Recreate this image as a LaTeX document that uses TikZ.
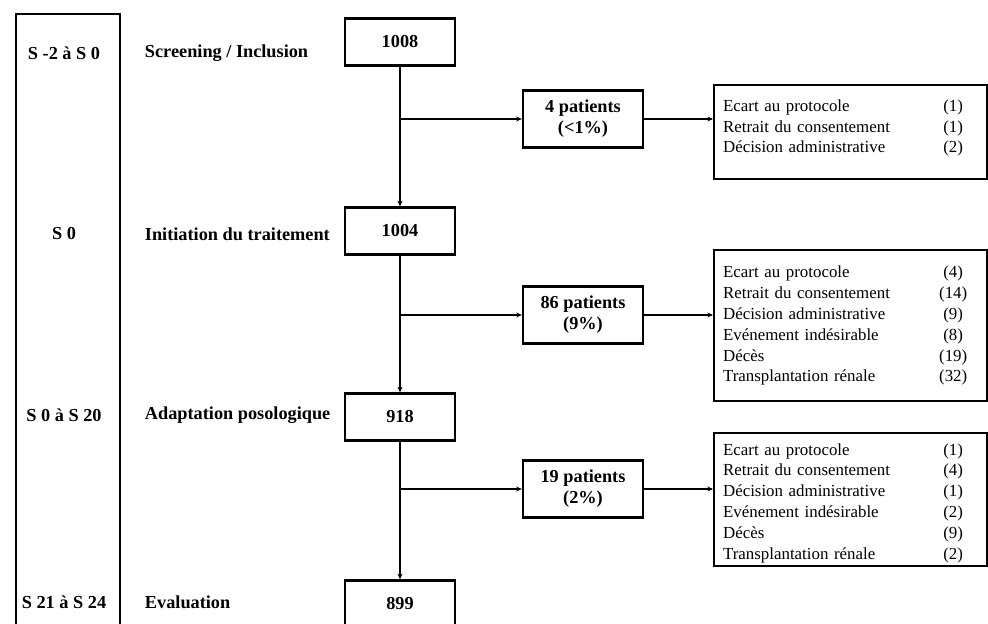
\documentclass[tikz,border=0pt]{standalone}
\usepackage{fontspec}
\setmainfont{Liberation Serif}
\usetikzlibrary{positioning, arrows.meta}

\newcommand{\nb}[1]{\makebox[0.9cm]{#1}}

\tikzset{
  thickline/.style={line width=1.6pt},
  countbox/.style={draw, thickline, minimum width=2.75cm, minimum height=1.175cm},
  patbox/.style={draw, thickline, minimum width=3cm, minimum height=1.43cm, align=center},
  listbox/.style={draw, thickline, anchor=north west, inner xsep=0.225cm, inner ysep=0pt,
    text width=6.375cm, align=left, font=\mdseries\fontsize{12}{14.8}\selectfont},
  phase/.style={anchor=west}
}

\begin{document}
\begin{tikzpicture}[x=0.025cm, y=-0.025cm, >={Stealth[length=4pt,width=3.5pt]},
    font=\bfseries\fontsize{13}{15}\selectfont]
    \clip (0,0) rectangle (988,624);
    \useasboundingbox (0,0) rectangle (988,624);

    % colonne des semaines
    \draw[thickline] (16,640) -- (16,14) -- (120,14) -- (120,640);
    \node (w1) at (64,53) {S -2 à S 0};
    \node (w2) at (64,234) {S 0};
    \node (w3) at (64,415) {S 0 à S 20};
    \node (w4) at (64,602) {S 21 à S 24};

    \node[phase] (ph1) at (140,53) {Screening / Inclusion};
    \node[phase] (ph2) at (140,234) {Initiation du traitement};
    \node[phase] (ph3) at (140,415) {Adaptation posologique};
    \node[phase] (ph4) at (140,602) {Evaluation};

    % effectifs
    \node[countbox] (c1) at (400,42) {1008};
    \node[countbox] (c2) at (400,231) {1004};
    \node[countbox] (c3) at (400,417) {918};
    \node[countbox] (c4) at (400,604) {899};

    % sorties d'etude
    \node[patbox] (x1) at (583,119) {4 patients\\(<1\%)};
    \node[patbox] (x2) at (583,315) {86 patients\\(9\%)};
    \node[patbox] (x3) at (583,489) {19 patients\\(2\%)};

    \node[listbox, minimum height=2.35cm] (r1) at (713,84) {%
      \begin{tabular}{@{}p{5.3cm}@{}l@{}}
        Ecart au protocole & \nb{(1)}\\
        Retrait du consentement & \nb{(1)}\\
        Décision administrative & \nb{(2)}\\[6pt]
      \end{tabular}};
    \node[listbox, minimum height=3.78cm] (r2) at (713,249) {%
      \begin{tabular}{@{}p{5.3cm}@{}l@{}}
        Ecart au protocole & \nb{(4)}\\
        Retrait du consentement & \nb{(14)}\\
        Décision administrative & \nb{(9)}\\
        Evénement indésirable & \nb{(8)}\\
        Décès & \nb{(19)}\\
        Transplantation rénale & \nb{(32)}
      \end{tabular}};
    \node[listbox, minimum height=3.33cm] (r3) at (713,432) {%
      \begin{tabular}{@{}p{5.3cm}@{}l@{}}
        \rule{0pt}{15pt}Ecart au protocole & \nb{(1)}\\
        Retrait du consentement & \nb{(4)}\\
        Décision administrative & \nb{(1)}\\
        Evénement indésirable & \nb{(2)}\\
        Décès & \nb{(9)}\\
        Transplantation rénale & \nb{(2)}
      \end{tabular}};

    % liaisons
    \draw[thickline, ->] (c1) -- (c2);
    \draw[thickline, ->] (c2) -- (c3);
    \draw[thickline, ->] (c3) -- (c4);
    \draw[thickline, ->] (c1 |- x1.west) -- (x1.west);
    \draw[thickline, ->] (c2 |- x2.west) -- (x2.west);
    \draw[thickline, ->] (c3 |- x3.west) -- (x3.west);
    \draw[thickline, ->] (x1.east) -- (x1.east -| r1.west);
    \draw[thickline, ->] (x2.east) -- (x2.east -| r2.west);
    \draw[thickline, ->] (x3.east) -- (x3.east -| r3.west);
\end{tikzpicture}
\end{document}
